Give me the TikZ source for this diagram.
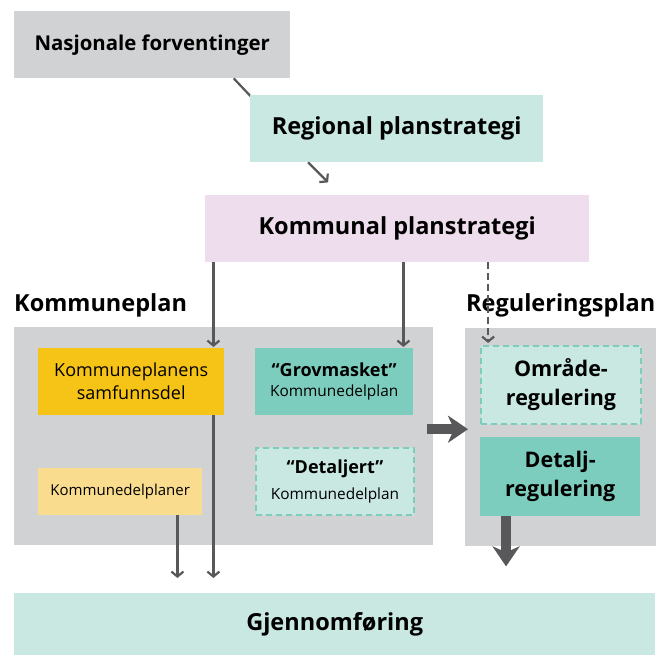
\documentclass[tikz,border=0pt]{standalone}
\usepackage{fontspec}
\setmainfont{Open Sans}
\usetikzlibrary{arrows.meta,calc}
\definecolor{cgray}{HTML}{D1D2D4}
\definecolor{cmint}{HTML}{C8E8E1}
\definecolor{cpink}{HTML}{EEDDEC}
\definecolor{cyel}{HTML}{F6C317}
\definecolor{clyel}{HTML}{FADC8E}
\definecolor{cteal}{HTML}{7DCDBE}
\definecolor{carr}{HTML}{58585A}
\newcommand{\myqtfont}{\bfseries\fontsize{18}{20}\selectfont}
\newcommand{\mysubfont}{\mdseries\fontsize{15.4}{18}\selectfont}
\tikzset{
  box/.style={anchor=north west, inner sep=0pt, align=center, text=black},
  dashbox/.style={box, draw=cteal, line width=2pt, dash pattern=on 6pt off 4pt},
  arr/.style={draw=carr, line width=2.2pt, -{Straight Barb[length=5pt,width=12pt,line width=2.2pt]}},
  darr/.style={arr, dash pattern=on 7pt off 4pt},
  thick arr/.style={draw=carr, line width=9.5pt, -{Stealth[length=20pt,width=27pt,inset=6pt]}},
  big/.style={font=\bfseries\fontsize{23.5}{26}\selectfont},
  lab/.style={anchor=west, inner sep=0pt, font=\bfseries\fontsize{23.5}{26}\selectfont},
  mid/.style={font=\bfseries\fontsize{21.5}{29}\selectfont},
}
\begin{document}
\begin{tikzpicture}[x=1pt,y=-1pt]
\useasboundingbox[fill=white] (0,0) rectangle (658,655);
% top chain
\node[box, fill=cgray, minimum width=276pt, minimum height=67pt, font=\bfseries\fontsize{20.4}{24}\selectfont] (nas) at (14,11) {Nasjonale forventinger};
\coordinate (nasout) at ($(nas.south west)!0.795!(nas.south east)$);
\draw[carr, line width=2.2pt] (nasout) -- ($(nasout)+(17,18)$) coordinate (nasend);
\node[box, fill=cmint, minimum width=293pt, minimum height=67pt, big] (reg) at (250,95) {Regional planstrategi};
\coordinate (regout) at ($(reg.south west)!0.198!(reg.south east)$);
\draw[arr] (regout) -- ++(20,20) coordinate (regend);
\node[box, fill=cpink, minimum width=384pt, minimum height=67pt, big] (kom) at (205,195) {Kommunal planstrategi};
% Kommuneplan
\node[lab] (kplab) at (14,305) {Kommuneplan};
\node[box, fill=cgray, minimum width=419pt, minimum height=218pt] (kp) at (14,327) {};
\node[box, fill=cyel, minimum width=186pt, minimum height=67pt, font=\fontsize{18}{23}\selectfont] (samf) at (38,348) {Kommuneplanens\\samfunnsdel};
\node[box, fill=clyel, minimum width=164pt, minimum height=47pt, font=\fontsize{15}{18}\selectfont] (kdp) at (38,468) {Kommunedelplaner};
\node[box, fill=cteal, minimum width=158pt, minimum height=67pt] (grov) at (255,348) {{\myqtfont “Grovmasket”}\\[8pt]{\mysubfont Kommunedelplan}};
\node[dashbox, fill=cmint, minimum width=158pt, minimum height=67pt] (detk) at (255,447) {{\myqtfont “Detaljert”}\\[8pt]{\mysubfont Kommunedelplan}};
% Reguleringsplan
\node[lab] (rplab) at (466,305) {Reguleringsplan};
\node[box, fill=cgray, minimum width=191pt, minimum height=218pt] (rp) at (465,328) {};
\node[dashbox, fill=cmint, minimum width=160pt, minimum height=78pt, mid] (omr) at (480,345) {Område-\\regulering};
\node[box, fill=cteal, minimum width=160pt, minimum height=79pt, mid] (det) at (480,437) {Detalj-\\regulering};
% Gjennomføring
\node[box, fill=cmint, minimum width=641pt, minimum height=62pt, big] (gj) at (14,593) {Gjennomføring};
% connectors
\coordinate (a1) at ($(samf.north west)!0.941!(samf.north east)$);
\draw[arr, shorten >=1pt] (kom.south -| a1) -- (a1);
\coordinate (a2) at ($(grov.north west)!0.937!(grov.north east)$);
\draw[arr, shorten >=1pt] (kom.south -| a2) -- (a2);
\coordinate (a3) at ($(omr.north west)!0.05!(omr.north east)$);
\draw[darr, shorten >=2pt] (kom.south -| a3) -- (a3);
\coordinate (b1) at ($(samf.south west)!0.941!(samf.south east)$);
\draw[arr, shorten >=15pt] (b1) -- (gj.north -| b1);
\coordinate (b2) at ($(kdp.south west)!0.848!(kdp.south east)$);
\draw[arr, shorten >=15pt] (b2) -- (gj.north -| b2);
\coordinate (c1) at ([xshift=-6pt,yshift=7pt]kp.east);
\draw[thick arr] (c1) -- ([xshift=3pt]c1 -| rp.west);
\coordinate (d1) at ($(det.south west)!0.1625!(det.south east)$);
\draw[thick arr] (d1) -- ++(0,50) coordinate (d1end);
\end{tikzpicture}
\end{document}
